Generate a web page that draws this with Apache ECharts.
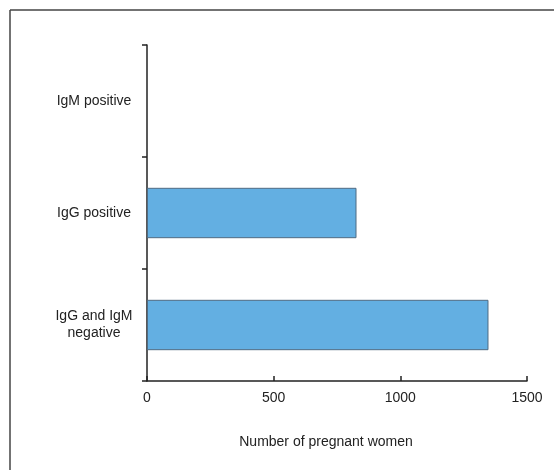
<!DOCTYPE html>
<html>
<head>
<meta charset="utf-8">
<script src="https://cdn.jsdelivr.net/npm/echarts@6/dist/echarts.min.js"></script>
<style>
html,body{margin:0;padding:0;background:#fff;}
#chart{width:554px;height:470px;}
</style>
</head>
<body>
<div id="chart"></div>
<script>
const categories = ['IgG and IgM\nnegative', 'IgG positive', 'IgM positive'];
const counts = [1348, 827, 0];
const xTicks = [0, 500, 1000, 1500];
const xTitle = 'Number of pregnant women';

const chart = echarts.init(document.getElementById('chart'));
const font = 'Liberation Sans, Arial, sans-serif';
chart.setOption({
  animation: false,
  backgroundColor: '#fff',
  grid: { left: 147, right: 27, top: 45, bottom: 89, containLabel: false },
  xAxis: {
    type: 'value',
    min: xTicks[0],
    max: xTicks[xTicks.length - 1],
    interval: xTicks[1] - xTicks[0],
    splitLine: { show: false },
    axisLine: { show: true, lineStyle: { color: '#222', width: 1.5 } },
    axisTick: { show: true, inside: true, length: 5, lineStyle: { color: '#222', width: 1.5 } },
    axisLabel: { color: '#222', fontSize: 14, fontFamily: font, margin: 10, formatter: v => String(v) }
  },
  yAxis: {
    type: 'category',
    data: categories,
    boundaryGap: true,
    axisLine: { show: true, lineStyle: { color: '#222', width: 1.5 } },
    axisTick: { show: true, inside: false, length: 5, lineStyle: { color: '#222', width: 1.5 } },
    axisLabel: { color: '#222', fontSize: 14, fontFamily: font, align: 'center', margin: 53, lineHeight: 17 }
  },
  series: [{
    type: 'bar',
    data: counts.map(v => v > 0 ? v : { value: v, itemStyle: { borderWidth: 0, opacity: 0 } }),
    barWidth: '45%',
    itemStyle: { color: '#63afe2', borderColor: '#4f6b82', borderWidth: 1 }
  }],
  graphic: [
    { type: 'line', shape: { x1: 10, y1: 10, x2: 554, y2: 10 }, style: { stroke: '#444', lineWidth: 1.5 } },
    { type: 'line', shape: { x1: 10, y1: 10, x2: 10, y2: 470 }, style: { stroke: '#444', lineWidth: 1.5 } },
    { type: 'text', x: 326, y: 442, style: { text: xTitle, fill: '#222', fontSize: 14, fontFamily: font, textAlign: 'center', textVerticalAlign: 'middle' } }
  ]
});
</script>
</body>
</html>
